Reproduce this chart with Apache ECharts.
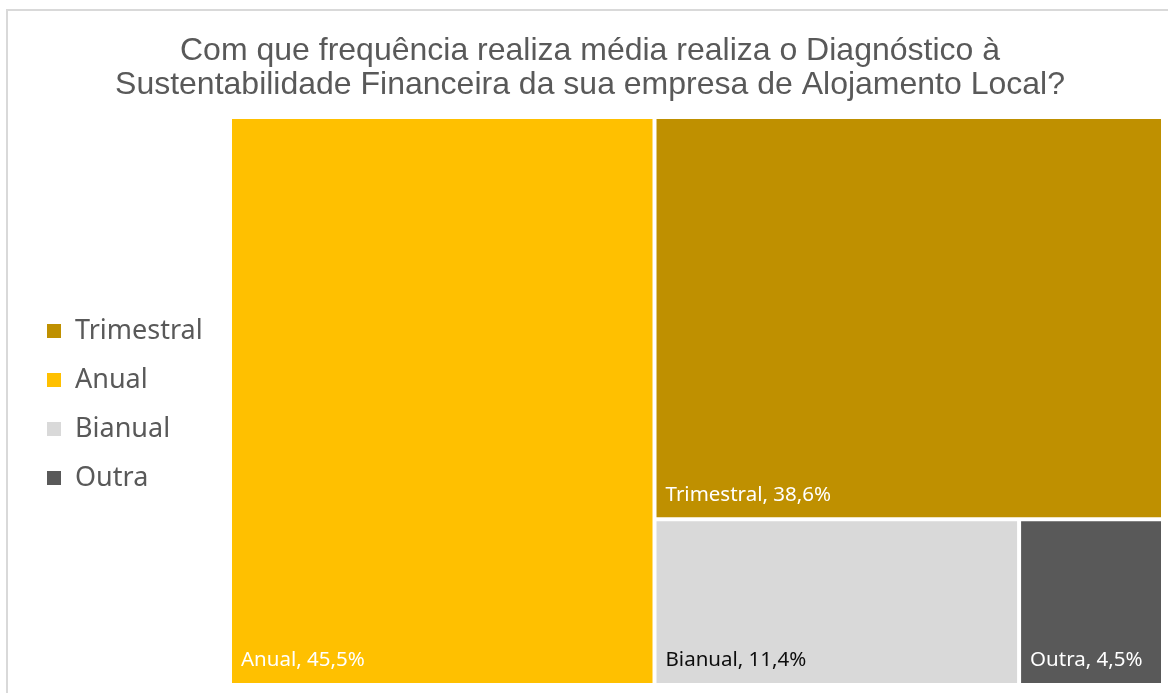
<!DOCTYPE html>
<html>
<head>
<meta charset="utf-8">
<script src="https://cdn.jsdelivr.net/npm/echarts@6/dist/echarts.min.js"></script>
<style>
  html, body { margin: 0; padding: 0; background: #fff; }
  #chart { width: 1168px; height: 693px; }
</style>
</head>
<body>
<div id="chart"></div>
<script>
// Frequency categories, their shares (%) and fill colours
const categories = ['Anual', 'Trimestral', 'Bianual', 'Outra'];
const shares = [45.5, 38.6, 11.4, 4.5];
const colors = ['#FFC000', '#BF9000', '#D9D9D9', '#595959'];
const labelColors = ['#ffffff', '#ffffff', '#0d0d0d', '#ffffff'];
const legendOrder = ['Trimestral', 'Anual', 'Bianual', 'Outra'];

const titleText = 'Com que frequência realiza média realiza o Diagnóstico à\nSustentabilidade Financeira da sua empresa de Alojamento Local?';

const fmtPct = v => v.toFixed(1).replace('.', ',') + '%';

const nodes = categories.map((name, i) => ({
  name,
  value: shares[i],
  itemStyle: { color: colors[i] },
  label: { color: labelColors[i] }
}));

const chart = echarts.init(document.getElementById('chart'), null, { renderer: 'canvas' });

chart.setOption({
  backgroundColor: '#ffffff',
  animation: false,
  graphic: [{
    type: 'rect',
    shape: { x: 7, y: 10, width: 1300, height: 800 },
    style: { fill: 'none', stroke: '#d9d9d9', lineWidth: 2 },
    silent: true,
    z: -10
  }],
  title: {
    text: titleText,
    left: 585,
    top: 29,
    textAlign: 'center',
    textStyle: {
      fontFamily: 'Liberation Sans, Arial, sans-serif',
      fontSize: 32,
      fontWeight: 'normal',
      color: '#595959',
      lineHeight: 34
    }
  },
  legend: {
    orient: 'vertical',
    left: 42,
    top: 311,
    data: legendOrder,
    icon: 'rect',
    itemWidth: 14,
    itemHeight: 14,
    itemGap: 19,
    selectedMode: false,
    textStyle: {
      fontFamily: 'Noto Sans, Open Sans, sans-serif',
      fontSize: 27,
      color: '#595959',
      lineHeight: 30,
      padding: [0, 0, 0, 9]
    }
  },
  series: [
    {
      // carries the category colours for the legend; draws nothing itself
      type: 'pie',
      radius: [0, 0],
      center: [-100, -100],
      silent: true,
      label: { show: false },
      labelLine: { show: false },
      data: categories.map((name, i) => ({ name, value: shares[i], itemStyle: { color: colors[i] } }))
    },
    {
      type: 'treemap',
      left: 232,
      top: 119,
      width: 929,
      height: 564,
      roam: false,
      nodeClick: false,
      squareRatio: 1,
      breadcrumb: { show: false },
      sort: 'desc',
      levels: [
        { itemStyle: { borderWidth: 0, gapWidth: 4 } },
        { itemStyle: { borderWidth: 0, gapWidth: 0 } }
      ],
      label: {
        show: true,
        position: 'insideBottomLeft',
        distance: 9,
        padding: [0, 0, 3, 0],
        fontFamily: 'Noto Sans, Open Sans, sans-serif',
        fontSize: 20.5,
        formatter: p => p.name + ', ' + fmtPct(p.value)
      },
      emphasis: { disabled: true },
      data: nodes
    }
  ]
});
</script>
</body>
</html>
